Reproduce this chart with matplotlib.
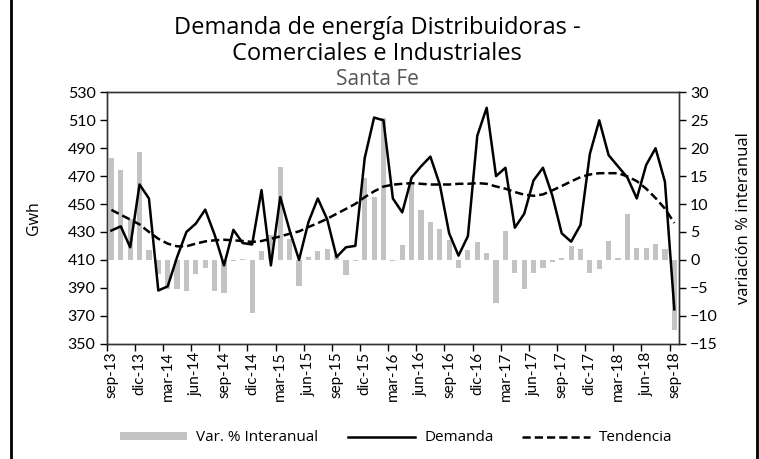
import numpy as np
import matplotlib.pyplot as plt
from matplotlib.lines import Line2D
from matplotlib.patches import Patch

plt.rcParams['font.family'] = ['Lato', 'DejaVu Sans']
WIDE = ['Open Sans', 'DejaVu Sans']

# meses sep-13 ... sep-18 (61 valores)
tick_labels = ['sep-13', 'dic-13', 'mar-14', 'jun-14', 'sep-14', 'dic-14', 'mar-15',
               'jun-15', 'sep-15', 'dic-15', 'mar-16', 'jun-16', 'sep-16', 'dic-16',
               'mar-17', 'jun-17', 'sep-17', 'dic-17', 'mar-18', 'jun-18', 'sep-18']

demanda = [431, 434, 419, 464, 454, 388, 391, 412, 430, 436,
           446, 428, 406, 431.5, 422, 421, 460, 406, 455, 431,
           410, 437, 454, 439, 412, 419, 420, 483, 512, 510,
           454, 444, 469, 477, 484, 464, 429, 413, 427, 499,
           519, 470, 476, 433, 443, 467, 476, 456, 429, 423,
           435, 486, 510, 485, 477, 469, 454, 478, 490, 466,
           374.5]

tendencia = [445.8, 442.3, 438.9, 435.4, 430, 425.1, 421.6, 419.7, 419.7, 421.6,
             423.2, 424, 424.4, 424, 423.5, 422.8, 423.5, 425.1, 426.8, 428.7,
             430.4, 433.5, 436.3, 439.4, 443, 446.5, 450.1, 454.9, 459.1, 462.5,
             463.9, 464.5, 465, 464.5, 464, 464, 464, 464.5, 464.5, 465,
             464.5, 462.6, 461, 458.6, 456.7, 455.9, 456.9, 459.8, 462.9, 466.2,
             469.3, 471.2, 472.1, 472.1, 472.1, 469.8, 466.4, 461, 454.3, 446.7,
             436.4]

var_interanual = [18.2, 16.1, 7.3, 19.3, 1.8, -2.5, -5.2, -5.2, -5.6, -2.6,
                  -1.4, -5.6, -6.0, -0.2, 0.2, -9.5, 1.5, 4.5, 16.6, 3.7,
                  -4.7, 0.5, 1.5, 2.0, 0.8, -2.8, -0.3, 14.7, 11.3, 25.4,
                  -0.3, 2.7, 14.0, 9.0, 6.8, 5.5, 3.6, -1.4, 1.7, 3.2,
                  1.3, -7.8, 5.2, -2.3, -5.2, -2.3, -1.4, -0.4, 0.35, 2.5,
                  2.0, -2.3, -1.7, 3.4, 0.35, 8.2, 2.2, 2.2, 2.9, 2.0,
                  -12.5]

x = np.arange(len(demanda))

fig = plt.figure(figsize=(7.59, 4.59), dpi=100)
ax = fig.add_axes([0.1406, 0.2516, 0.754, 0.547])
ax2 = ax.twinx()

# barras detras de las lineas
ax.set_zorder(ax2.get_zorder() + 1)
ax.patch.set_visible(False)

ax2.bar(x, var_interanual, width=0.55, color='#c3c3c3')
ax.plot(x, demanda, color='black', lw=1.8)
ax.plot(x, tendencia, color='black', lw=1.8, ls=(0, (3.3, 1.6)))

ax.set_xlim(-0.5, len(x) - 0.5)
ax.set_ylim(350, 530)
ax.set_yticks(np.arange(350, 531, 20))
ax2.set_ylim(-15, 30)
ax2.set_yticks(np.arange(-15, 31, 5))

ax.set_xticks(x[::3])
ax.set_xticklabels(tick_labels, rotation=90, fontsize=11)
ax.set_xticks(x[::3] - 0.5, minor=True)
ax.tick_params(axis='x', which='major', length=0, pad=6)
ax.tick_params(axis='x', which='minor', length=5, width=1)
ax.tick_params(axis='y', labelsize=11.5, length=5, width=1, pad=3)
ax2.tick_params(axis='y', labelsize=11.5, length=5, width=1, pad=3)

ax.set_ylabel('Gwh', fontsize=11.5, labelpad=18, family=WIDE)
ax2.set_ylabel('variación % interanual', fontsize=12, labelpad=13, family=WIDE)

for a in (ax, ax2):
    for s in a.spines.values():
        s.set_linewidth(1)
        s.set_color('#333333')

fig.text(0.497, 0.938, 'Demanda de energía Distribuidoras -', ha='center', va='center',
         fontsize=17, family=WIDE)
fig.text(0.497, 0.882, 'Comerciales e Industriales', ha='center', va='center',
         fontsize=17, family=WIDE)
fig.text(0.497, 0.827, 'Santa Fe', ha='center', va='center', fontsize=15,
         color='#555555', family=WIDE)

handles = [Patch(facecolor='#c3c3c3'),
           Line2D([], [], color='black', lw=1.8),
           Line2D([], [], color='black', lw=1.8, ls=(0, (3.3, 1.6)))]
fig.legend(handles, ['Var. % Interanual', 'Demanda', 'Tendencia'],
           loc='center', bbox_to_anchor=(0.522, 0.046), ncol=3, frameon=False,
           prop={'family': WIDE, 'size': 11}, handlelength=4.4, handleheight=0.4,
           columnspacing=1.9, handletextpad=0.6)

# borde lateral del grafico
fig.add_artist(Line2D([0.0145, 0.0145], [0, 1], color='black', lw=2, transform=fig.transFigure))
fig.add_artist(Line2D([0.997, 0.997], [0, 1], color='black', lw=2, transform=fig.transFigure))

fig.savefig('out.png', dpi=100)
